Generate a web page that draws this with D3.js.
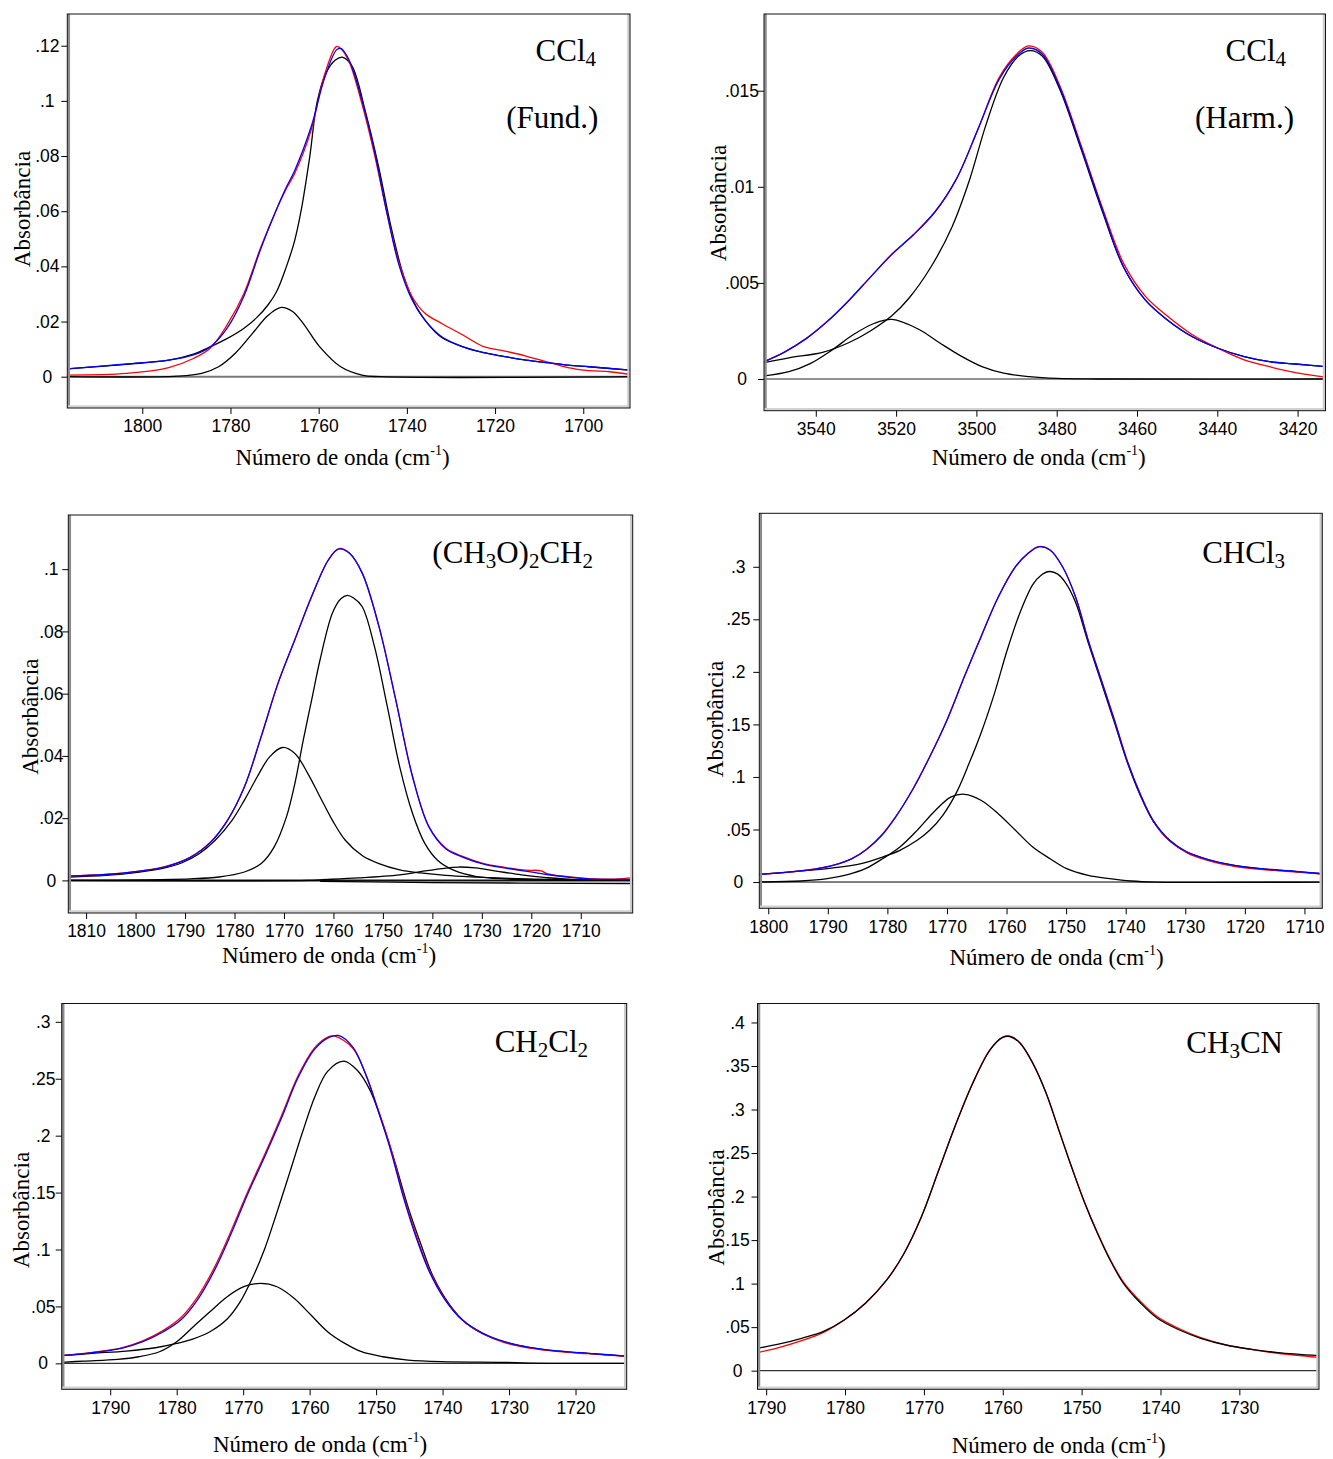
<!DOCTYPE html>
<html>
<head>
<meta charset="utf-8">
<script src="https://cdn.jsdelivr.net/npm/d3@7"></script>
<style>
body{margin:0;background:#fff}
svg{display:block}
</style>
</head>
<body>
<div id="figure"></div>
<script>
// ---- CCl4 fundamental (top left) ----
const ccl4FundXTicks = [1800,1780,1760,1740,1720,1700]
const ccl4FundYTicks = [0,0.02,0.04,0.06,0.08,0.1,0.12]
const ccl4FundRed = [[1817,0.0006],[1803.6,0.0012],[1794,0.0033],[1788.4,0.0066],[1784.6,0.0103],[1780.8,0.0187],[1777,0.030],[1773.1,0.047],[1769.3,0.0616],[1767.4,0.068],[1765.5,0.0735],[1761.7,0.0894],[1758.8,0.1088],[1756,0.1197],[1755,0.119],[1753.1,0.1142],[1750.2,0.099],[1747.4,0.081],[1744.5,0.0592],[1741.7,0.041],[1738.8,0.029],[1735.9,0.023],[1732.1,0.0193],[1727.3,0.0151],[1722.6,0.0109],[1717.8,0.0093],[1713,0.0075],[1708.3,0.0054],[1703.5,0.0033],[1698.7,0.0022],[1694,0.0018],[1689.4,0.0008]]
const ccl4FundFit = [[1817,0.0028],[1803.6,0.0046],[1794,0.006],[1788.4,0.0079],[1784.6,0.0108],[1780.8,0.0175],[1777,0.029],[1773.1,0.0465],[1769.3,0.0616],[1767.4,0.0685],[1765.5,0.0745],[1761.7,0.0906],[1758.8,0.1076],[1756,0.1184],[1755,0.119],[1753.1,0.1148],[1750.2,0.1003],[1747.4,0.0822],[1744.5,0.0592],[1741.7,0.040],[1738.8,0.0278],[1735.9,0.0205],[1732.1,0.0145],[1727.3,0.0109],[1722.6,0.0087],[1717.8,0.0073],[1713,0.006],[1708.3,0.0051],[1703.5,0.0042],[1698.7,0.0036],[1689.4,0.0024]]
const ccl4FundMain = [[1817,0.0028],[1803.6,0.0045],[1794,0.006],[1788.4,0.0082],[1784.6,0.0108],[1780.8,0.0138],[1777,0.0175],[1774,0.0215],[1771.5,0.026],[1769.5,0.031],[1767.3,0.040],[1765.5,0.049],[1764,0.060],[1762,0.080],[1760.3,0.100],[1758.2,0.1105],[1756.2,0.1148],[1754.5,0.1158],[1752.4,0.1125],[1749.3,0.0955],[1746.4,0.0761],[1743.6,0.0544],[1740.7,0.0363],[1737.9,0.0254],[1735,0.0187],[1732.1,0.0142],[1727.3,0.0108],[1722.6,0.0087],[1717.8,0.0073],[1713,0.006],[1708.3,0.0051],[1703.5,0.0042],[1698.7,0.0036],[1689.4,0.0024]]
const ccl4FundSmall = [[1817,0],[1792,0.0002],[1786.5,0.0012],[1782.7,0.0036],[1778.9,0.0085],[1775,0.0157],[1771.5,0.0222],[1768.5,0.0251],[1766,0.0237],[1763.6,0.0195],[1759.8,0.0109],[1755,0.0036],[1750.2,0.0006],[1746,0],[1689.4,0]]

// ---- CCl4 harmonic (top right) ----
const ccl4HarmXTicks = [3540,3520,3500,3480,3460,3440,3420]
const ccl4HarmYTicks = [0,0.005,0.01,0.015]
const ccl4HarmRed = [[3552.9,0.0009],[3547.8,0.0014],[3542.4,0.0021],[3537.1,0.003],[3531.7,0.0041],[3526.4,0.0053],[3521,0.0065],[3515.7,0.0075],[3510.3,0.0087],[3505,0.0104],[3499.6,0.013],[3494.3,0.0157],[3490,0.0169],[3487,0.01733],[3483.6,0.017],[3479.3,0.0153],[3474,0.0122],[3468.6,0.0089],[3463.3,0.006],[3457.9,0.0043],[3452.6,0.0033],[3446.2,0.0023],[3439.8,0.0016],[3433.3,0.001],[3427,0.00064],[3420.5,0.00033],[3413,0.0001]]
const ccl4HarmFit = [[3552.9,0.0009],[3547.8,0.0014],[3542.4,0.0021],[3537.1,0.003],[3531.7,0.0041],[3526.4,0.0053],[3521,0.0065],[3515.7,0.0075],[3510.3,0.0087],[3505,0.0104],[3499.6,0.013],[3494.3,0.0156],[3490,0.0168],[3487,0.01722],[3483.6,0.0169],[3479.3,0.0152],[3474,0.0121],[3468.6,0.0088],[3463.3,0.0058],[3457.9,0.0041],[3452.6,0.0031],[3446.2,0.0022],[3439.8,0.0016],[3433.3,0.00116],[3427,0.0009],[3420.5,0.00078],[3413,0.00064]]
const ccl4HarmMain = [[3552.9,0.00085],[3546.7,0.0011],[3538.1,0.0014],[3531.7,0.0019],[3526.4,0.0025],[3521,0.0033],[3516.8,0.0042],[3511.4,0.0058],[3506.1,0.0079],[3501.8,0.0103],[3497.5,0.0133],[3493.2,0.0157],[3489.5,0.0168],[3486.6,0.01708],[3483.6,0.0168],[3479.3,0.0151],[3474,0.012],[3468.6,0.0087],[3463.3,0.0058],[3457.9,0.0041],[3452.6,0.0031],[3446.2,0.0022],[3439.8,0.0016],[3433.3,0.00116],[3427,0.0009],[3420.5,0.00078],[3413,0.00064]]
const ccl4HarmSmall = [[3552.9,0.00016],[3546.7,0.00038],[3541.4,0.0008],[3536,0.0015],[3530.7,0.0023],[3525.4,0.0029],[3521,0.0031],[3514.5,0.0026],[3509.3,0.0019],[3503.9,0.0012],[3498.6,0.00064],[3493.2,0.0003],[3486.8,0.00012],[3480,0.00003],[3470,0],[3413,0]]

// ---- (CH3O)2CH2 (middle left) ----
const dmmXTicks = [1810,1800,1790,1780,1770,1760,1750,1740,1730,1720,1710]
const dmmYTicks = [0,0.02,0.04,0.06,0.08,0.1]
const dmmRed = [[1813.6,0.0014],[1806,0.0019],[1799.2,0.003],[1794.1,0.0044],[1789,0.0074],[1784.8,0.0124],[1781.4,0.0194],[1778,0.0301],[1774.6,0.0463],[1771.2,0.0634],[1767.8,0.0774],[1764.4,0.0913],[1761,0.1031],[1758.9,0.1066],[1756.8,0.1052],[1754.2,0.0988],[1750.8,0.0816],[1747.4,0.058],[1744,0.0333],[1740.7,0.0173],[1737.3,0.0104],[1733.9,0.0077],[1729.6,0.0054],[1725.4,0.0042],[1721.2,0.0033],[1718,0.0031],[1716.9,0.0022],[1712.7,0.0012],[1708.4,0.0006],[1703,0.0004],[1699.5,0.0009]]
const dmmFit = [[1813.6,0.0014],[1806,0.0019],[1799.2,0.003],[1794.1,0.0043],[1789,0.0073],[1784.8,0.0123],[1781.4,0.0193],[1778,0.030],[1774.6,0.0462],[1771.2,0.0633],[1767.8,0.0773],[1764.4,0.0912],[1761,0.103],[1758.9,0.1065],[1756.8,0.1052],[1754.2,0.0988],[1750.8,0.0816],[1747.4,0.058],[1744,0.0333],[1740.7,0.0172],[1737.3,0.0102],[1733.9,0.0075],[1729.6,0.0052],[1725.4,0.004],[1721.2,0.003],[1716.9,0.0019],[1712.7,0.0011],[1708.4,0.0005],[1699.5,0.0003]]
const dmmMain = [[1813.6,0],[1789,0.0005],[1783.1,0.0011],[1778,0.0027],[1774.6,0.0054],[1772,0.0107],[1769.5,0.0204],[1767.8,0.0311],[1766.1,0.0451],[1764.4,0.058],[1762.7,0.0709],[1760.2,0.0859],[1758.5,0.0905],[1757.2,0.0916],[1756,0.0908],[1754.2,0.088],[1751.7,0.0751],[1749.1,0.0558],[1746.6,0.0365],[1744,0.0215],[1741.5,0.0118],[1738.9,0.0064],[1735.6,0.0032],[1731.3,0.0013],[1725.4,0.0005],[1699.5,0]]
const dmmSecond = [[1813.6,0.0011],[1806,0.0016],[1799.2,0.0027],[1794.1,0.004],[1790.7,0.0056],[1787.3,0.0084],[1783.9,0.0129],[1780.5,0.0193],[1778,0.0258],[1775.4,0.0333],[1772.9,0.0397],[1770.3,0.0427],[1767.8,0.0408],[1765.2,0.0344],[1762.7,0.0268],[1760.2,0.0193],[1757.6,0.0129],[1754.2,0.008],[1750.8,0.0054],[1746.6,0.0034],[1742.4,0.0024],[1737.3,0.0016],[1731.3,0.0011],[1721,0.0005],[1699.5,0.0002]]
const dmmThird = [[1813.6,0],[1765,0],[1762.7,0.0002],[1755,0.0008],[1746.6,0.0018],[1742.4,0.0028],[1738.1,0.0038],[1734.7,0.0043],[1731.3,0.004],[1727.1,0.003],[1722,0.0018],[1716.9,0.0009],[1712.7,0.0004],[1699.5,0]]
const dmmBase = [[1762.7,-0.0003],[1740,-0.0007],[1699.5,-0.001]]

// ---- CHCl3 (middle right) ----
const chcl3XTicks = [1800,1790,1780,1770,1760,1750,1740,1730,1720,1710]
const chcl3YTicks = [0,0.05,0.1,0.15,0.2,0.25,0.3]
const chcl3Red = [[1801.5,0.0071],[1796.6,0.0094],[1792,0.0124],[1789,0.016],[1786,0.0222],[1783.5,0.0312],[1781,0.0445],[1778.6,0.0622],[1775.7,0.0888],[1772.9,0.1193],[1770,0.1543],[1767.1,0.1953],[1764.3,0.2333],[1761.4,0.2713],[1758.5,0.3003],[1756.4,0.3128],[1754.6,0.3192],[1752.7,0.3159],[1750.6,0.3],[1748.4,0.271],[1746.3,0.2305],[1744.1,0.1925],[1741.9,0.1545],[1739.8,0.1165],[1737.6,0.0844],[1735.4,0.0585],[1732.6,0.0392],[1729.7,0.0278],[1726.1,0.0203],[1721.8,0.015],[1717.4,0.012],[1712.4,0.0099],[1707,0.0075]]
const chcl3Fit = [[1801.5,0.0073],[1796.6,0.0095],[1792,0.0125],[1789,0.016],[1786,0.022],[1783.5,0.031],[1781,0.044],[1778.6,0.062],[1775.7,0.0885],[1772.9,0.119],[1770,0.154],[1767.1,0.195],[1764.3,0.233],[1761.4,0.271],[1758.5,0.300],[1756.4,0.3127],[1754.6,0.319],[1752.7,0.3159],[1750.6,0.300],[1748.4,0.271],[1746.3,0.230],[1744.1,0.192],[1741.9,0.154],[1739.8,0.116],[1737.6,0.0841],[1735.4,0.0587],[1732.6,0.0397],[1729.7,0.0286],[1726.1,0.0213],[1721.8,0.0159],[1717.4,0.0127],[1712.4,0.0105],[1707,0.0079]]
const chcl3Main = [[1801.5,0.0073],[1796.6,0.0095],[1789.4,0.0133],[1784.4,0.0175],[1780.8,0.0238],[1777.9,0.0302],[1775,0.0397],[1772.9,0.0492],[1770.7,0.0635],[1768.5,0.0841],[1766.3,0.1127],[1764.2,0.143],[1762,0.18],[1759.9,0.2206],[1757.7,0.257],[1755.6,0.283],[1754.2,0.292],[1752.8,0.2955],[1751.4,0.293],[1750,0.284],[1748.4,0.266],[1746.3,0.228],[1744.1,0.19],[1741.9,0.152],[1739.8,0.115],[1737.6,0.083],[1735.4,0.058],[1732.6,0.039],[1729.7,0.0284],[1726.1,0.0212],[1721.8,0.0158],[1717.4,0.0127],[1712.4,0.0105],[1707,0.0079]]
const chcl3Small = [[1801.5,0],[1794.5,0.001],[1790.1,0.0032],[1786.5,0.0073],[1783.7,0.0127],[1780.8,0.0222],[1777.9,0.0333],[1775,0.0492],[1772.2,0.0667],[1769.3,0.081],[1767,0.0835],[1764.3,0.0778],[1761.4,0.065],[1758.5,0.0492],[1755.6,0.0333],[1752.7,0.0222],[1749.9,0.0127],[1746.3,0.0063],[1742.7,0.0032],[1739.1,0.001],[1735,0],[1707,0]]

// ---- CH2Cl2 (bottom left) ----
const ch2cl2XTicks = [1790,1780,1770,1760,1750,1740,1730,1720]
const ch2cl2YTicks = [0,0.05,0.1,0.15,0.2,0.25,0.3]
const ch2cl2Red = [[1797.3,0.0069],[1792.7,0.0097],[1788.3,0.0136],[1785.1,0.0197],[1782,0.029],[1779.4,0.040],[1776.9,0.058],[1774.3,0.0845],[1771.8,0.1165],[1769.3,0.151],[1766.8,0.183],[1764.2,0.218],[1761.7,0.253],[1759.2,0.2775],[1757.2,0.2868],[1756.2,0.2874],[1753.5,0.2768],[1751.6,0.2545],[1749.7,0.223],[1747.8,0.189],[1745.9,0.148],[1744,0.113],[1742.1,0.0835],[1739.6,0.0562],[1737,0.0378],[1733.9,0.0258],[1730.7,0.0183],[1726.9,0.0134],[1722.5,0.0103],[1718.1,0.0085],[1712.3,0.0061]]
const ch2cl2Fit = [[1797.3,0.0067],[1792.7,0.0094],[1788.3,0.0132],[1785.1,0.019],[1782,0.0278],[1779.4,0.038],[1776.9,0.0556],[1774.3,0.0819],[1771.8,0.114],[1769.3,0.149],[1766.8,0.181],[1764.2,0.216],[1761.7,0.2515],[1759.2,0.2763],[1757,0.2865],[1755.7,0.288],[1753.5,0.2778],[1751.6,0.2544],[1749.7,0.222],[1747.8,0.187],[1745.9,0.146],[1744,0.111],[1742.1,0.0819],[1739.6,0.0556],[1737,0.038],[1733.9,0.0263],[1730.7,0.019],[1726.9,0.014],[1722.5,0.0108],[1718.1,0.0088],[1712.3,0.0064]]
const ch2cl2Main = [[1797.3,0.0067],[1792.7,0.0088],[1787.6,0.0108],[1783.2,0.0137],[1780,0.0175],[1777.5,0.0215],[1775,0.0278],[1772.4,0.039],[1770.5,0.0535],[1768.6,0.075],[1766.8,0.1],[1764.9,0.133],[1763,0.1675],[1761.1,0.2025],[1759.2,0.2345],[1757.3,0.2565],[1754.9,0.2655],[1752.8,0.2573],[1750.9,0.2398],[1749,0.2105],[1747.1,0.1754],[1745.2,0.1374],[1743.3,0.1053],[1741.4,0.076],[1738.9,0.0512],[1736.4,0.0351],[1733.2,0.024],[1730.7,0.0188],[1726.9,0.0139],[1722.5,0.0107],[1718.1,0.0087],[1712.3,0.0063]]
const ch2cl2Small = [[1797.3,0.0009],[1794,0.002],[1788.9,0.0035],[1785.7,0.0058],[1782.6,0.0102],[1780,0.019],[1777.5,0.0322],[1775,0.0453],[1772.4,0.0585],[1769.9,0.0673],[1767.4,0.0702],[1764.9,0.0673],[1762.3,0.057],[1759.8,0.0424],[1757.3,0.0278],[1754.7,0.0175],[1752.2,0.0102],[1749,0.0058],[1745.2,0.0029],[1740.2,0.0015],[1730.7,0.0009],[1727,0.0002],[1712.3,0]]

// ---- CH3CN (bottom right) ----
const ch3cnXTicks = [1790,1780,1770,1760,1750,1740,1730]
const ch3cnYTicks = [0,0.05,0.1,0.15,0.2,0.25,0.3,0.35,0.4]
const ch3cnRed = [[1791.1,0.0207],[1788.3,0.0268],[1785.5,0.0345],[1782.8,0.0437],[1780.1,0.0582],[1777.4,0.0778],[1774.7,0.1046],[1772.5,0.1352],[1770.3,0.1772],[1768.1,0.2309],[1765.9,0.2845],[1763.8,0.3306],[1761.6,0.369],[1760,0.3833],[1759.1,0.3843],[1757.8,0.3765],[1756.2,0.3535],[1754.5,0.319],[1752.9,0.2768],[1751.3,0.2349],[1749.6,0.193],[1748,0.1587],[1746.4,0.1282],[1744.7,0.1018],[1742.5,0.0792],[1740.4,0.062],[1737.6,0.0482],[1734.9,0.038],[1731.7,0.0296],[1728.4,0.0242],[1725.1,0.02],[1719.9,0.0153]]
const ch3cnFit = [[1791.1,0.0257],[1788.3,0.0307],[1785.5,0.0372],[1782.8,0.0448],[1780.1,0.0582],[1777.4,0.0774],[1774.7,0.1042],[1772.5,0.1349],[1770.3,0.177],[1768.1,0.2307],[1765.9,0.2843],[1763.8,0.3303],[1761.6,0.3686],[1760,0.3828],[1759.1,0.3839],[1757.8,0.3762],[1756.2,0.3533],[1754.5,0.3188],[1752.9,0.2766],[1751.3,0.2345],[1749.6,0.1923],[1748,0.1579],[1746.4,0.1272],[1744.7,0.1004],[1742.5,0.0774],[1740.4,0.0602],[1737.6,0.0467],[1734.9,0.0372],[1731.7,0.0295],[1728.4,0.0245],[1725.1,0.0207],[1719.9,0.0172]]

const RED = "#ff0000", BLUE = "#0000ff", BLACK = "#000000"

// panel layout: frame in page pixels, axis range, label placement
const panels = [
    {frame:{l:67.3,r:630,t:14,b:408}, xDom:[1817,1689.4], yDom:[-0.01135,0.1315],
     xTicks:ccl4FundXTicks, yTicks:ccl4FundYTicks, yLab:20, zero:{c:"#7a7a7a",w:2},
     series:[[ccl4FundSmall,BLACK],[ccl4FundMain,BLACK],[ccl4FundRed,RED],[ccl4FundFit,BLUE]],
     labels:[{x:596,y:61,parts:[["CCl"],["4",1]]},{x:598.4,y:128,parts:[["(Fund.)"]]}],
     yTitle:{x:30,y:209}, xTitle:{x:342.5,y:465}},
    {frame:{l:764,r:1325.5,t:14,b:410.7}, xDom:[3552.9,3413.05], yDom:[-0.00165,0.01899],
     xTicks:ccl4HarmXTicks, yTicks:ccl4HarmYTicks, yLab:22, zero:{c:"#222",w:1.2},
     series:[[ccl4HarmSmall,BLACK],[ccl4HarmMain,BLACK],[ccl4HarmRed,RED],[ccl4HarmFit,BLUE]],
     labels:[{x:1286,y:61,parts:[["CCl"],["4",1]]},{x:1294,y:128,parts:[["(Harm.)"]]}],
     yTitle:{x:726,y:203}, xTitle:{x:1038.7,y:465}},
    {frame:{l:68.3,r:632.7,t:515,b:913}, xDom:[1813.6,1699.5], yDom:[-0.01047,0.1174],
     xTicks:dmmXTicks, yTicks:dmmYTicks, yLab:17, zero:{c:"#111",w:2},
     series:[[dmmBase,BLACK],[dmmThird,BLACK],[dmmSecond,BLACK],[dmmMain,BLACK],[dmmRed,RED],[dmmFit,BLUE]],
     labels:[{x:593,y:563.3,parts:[["(CH"],["3",1],["O)"],["2",1],["CH"],["2",1]]}],
     yTitle:{x:38,y:716.7}, xTitle:{x:329,y:963}},
    {frame:{l:759.3,r:1322.3,t:513.3,b:908.3}, xDom:[1801.5,1707.0], yDom:[-0.025,0.3509],
     xTicks:chcl3XTicks, yTicks:chcl3YTicks, yLab:21, zero:{c:"#000",w:1},
     series:[[chcl3Small,BLACK],[chcl3Main,BLACK],[chcl3Red,RED],[chcl3Fit,BLUE]],
     labels:[{x:1285,y:562.7,parts:[["CHCl"],["3",1]]}],
     yTitle:{x:723.3,y:719}, xTitle:{x:1056.5,y:965}},
    {frame:{l:61.7,r:626.7,t:1003.5,b:1389.3}, xDom:[1797.3,1712.3], yDom:[-0.0228,0.3161],
     xTicks:ch2cl2XTicks, yTicks:ch2cl2YTicks, yLab:18.5, zero:{c:"#333",w:1.2},
     series:[[ch2cl2Small,BLACK],[ch2cl2Main,BLACK],[ch2cl2Red,RED],[ch2cl2Fit,BLUE]],
     labels:[{x:588,y:1051.7,parts:[["CH"],["2",1],["Cl"],["2",1]]}],
     yTitle:{x:28.5,y:1210}, xTitle:{x:320,y:1451.7}},
    {frame:{l:757.5,r:1319,t:1003.5,b:1389.3}, xDom:[1791.1,1719.9], yDom:[-0.0214,0.4218],
     xTicks:ch3cnXTicks, yTicks:ch3cnYTicks, yLab:20, zero:{c:"#333",w:1.2},
     series:[[ch3cnRed,RED],[ch3cnFit,BLACK]],
     labels:[{x:1283,y:1052.7,parts:[["CH"],["3",1],["CN"]]}],
     yTitle:{x:723.5,y:1207.5}, xTitle:{x:1058.7,y:1453.3}}
]

const svgWidth = 1333
const svgHeight = 1459
const sans = "'Liberation Sans', Arial, sans-serif"
const serif = "'Liberation Serif', 'Times New Roman', serif"

const svg = d3.select("#figure").append("svg")
    .attr("width", svgWidth).attr("height", svgHeight)

// ".12" style labels, no leading zero
function fmt(d){
    return String(+d.toFixed(4)).replace(/^0\./, ".")
}

function drawPanel(p, i){
    const f = p.frame
    const x = d3.scaleLinear().domain(p.xDom).range([f.l, f.r])
    const y = d3.scaleLinear().domain(p.yDom).range([f.b, f.t])
    const g = svg.append("g").attr("class", "panel")

    g.append("clipPath").attr("id", "clip" + i)
        .append("rect").attr("x", f.l).attr("y", f.t)
        .attr("width", f.r - f.l).attr("height", f.b - f.t)

    // zero line
    g.append("line")
        .attr("x1", f.l).attr("x2", f.r)
        .attr("y1", y(0)).attr("y2", y(0))
        .attr("stroke", p.zero.c).attr("stroke-width", p.zero.w)

    const line = d3.line()
        .x(d => x(d[0]))
        .y(d => y(d[1]))
        .curve(d3.curveCatmullRom.alpha(0.5))

    g.append("g").attr("clip-path", "url(#clip" + i + ")")
        .selectAll("path").data(p.series).enter().append("path")
        .attr("d", s => line(s[0]))
        .attr("fill", "none")
        .attr("stroke", s => s[1])
        .attr("stroke-width", 1.3)

    // frame with a bevelled edge
    g.append("line").attr("x1", f.l + 1.5).attr("x2", f.l + 1.5).attr("y1", f.t).attr("y2", f.b)
        .attr("stroke", "#8c8c8c").attr("stroke-width", 2.5)
    g.append("line").attr("x1", f.l).attr("x2", f.r).attr("y1", f.b - 1.5).attr("y2", f.b - 1.5)
        .attr("stroke", "#d2d2d2").attr("stroke-width", 2.5)
    g.append("line").attr("x1", f.r - 1.5).attr("x2", f.r - 1.5).attr("y1", f.t).attr("y2", f.b)
        .attr("stroke", "#cacaca").attr("stroke-width", 2.5)
    g.append("rect")
        .attr("x", f.l).attr("y", f.t)
        .attr("width", f.r - f.l).attr("height", f.b - f.t)
        .attr("fill", "none").attr("stroke", "#111").attr("stroke-width", 1)

    const xAxis = d3.axisBottom(x).tickValues(p.xTicks).tickSize(6).tickPadding(6).tickFormat(d3.format("d"))
    const yAxis = d3.axisLeft(y).tickValues(p.yTicks).tickSize(6).tickPadding(p.yLab - 6).tickFormat(fmt)

    const xg = g.append("g").attr("transform", `translate(0, ${f.b})`).call(xAxis)
    const yg = g.append("g").attr("transform", `translate(${f.l}, 0)`).call(yAxis)
    ;[xg, yg].forEach(a => {
        a.select(".domain").remove()
        a.selectAll("line").attr("stroke", "#000")
        a.selectAll("text").attr("font-family", sans).attr("font-size", 17.5).attr("fill", "#000")
    })
    // y labels are centred under each other in the original
    yg.selectAll("text").attr("text-anchor", "middle")

    // axis titles
    g.append("text")
        .attr("transform", `translate(${p.yTitle.x}, ${p.yTitle.y}) rotate(-90)`)
        .attr("text-anchor", "middle")
        .attr("font-family", serif).attr("font-size", 23)
        .text("Absorbância")

    const xt = g.append("text")
        .attr("x", p.xTitle.x).attr("y", p.xTitle.y)
        .attr("text-anchor", "middle")
        .attr("font-family", serif).attr("font-size", 23)
    xt.append("tspan").text("Número de onda (cm")
    xt.append("tspan").attr("font-size", 14).attr("dy", -10).text("-1")
    xt.append("tspan").attr("dy", 10).text(")")

    // compound names
    p.labels.forEach(function(lb){
        const t = g.append("text")
            .attr("x", lb.x).attr("y", lb.y)
            .attr("text-anchor", "end")
            .attr("font-family", serif).attr("font-size", 31)
        let shifted = false
        lb.parts.forEach(function(part){
            const ts = t.append("tspan").text(part[0])
            if(part[1]){
                ts.attr("font-size", 21).attr("dy", shifted ? 0 : 5)
                shifted = true
            }else{
                ts.attr("dy", shifted ? -5 : 0)
                shifted = false
            }
        })
    })
}

panels.forEach(drawPanel)
</script>
</body>
</html>
